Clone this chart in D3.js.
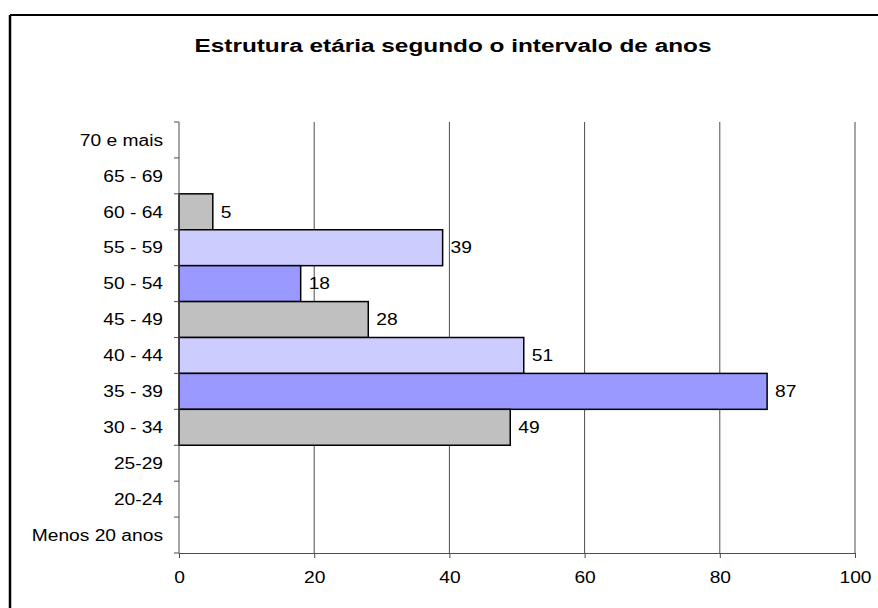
<!DOCTYPE html>
<html>
<head>
<meta charset="utf-8">
<script src="https://cdn.jsdelivr.net/npm/d3@7"></script>
<style>
  body { margin: 0; background: #fff; }
  svg { display: block; font-family: "Liberation Sans", Arial, sans-serif; }
</style>
</head>
<body>
<div id="chart"></div>
<script>
// age groups, top to bottom as drawn
var categories = ["70 e mais", "65 - 69", "60 - 64", "55 - 59", "50 - 54", "45 - 49",
                  "40 - 44", "35 - 39", "30 - 34", "25-29", "20-24", "Menos 20 anos"];
var values = [0, 0, 5, 39, 18, 28, 51, 87, 49, 0, 0, 0];
var barColors = ["#9999FF", "#CCCCFF", "#C0C0C0", "#CCCCFF", "#9999FF", "#C0C0C0",
                 "#CCCCFF", "#9999FF", "#C0C0C0", "#9999FF", "#CCCCFF", "#C0C0C0"];
var xTicks = [0, 20, 40, 60, 80, 100];
var title = "Estrutura etária segundo o intervalo de anos";

var W = 878, H = 608;
var m = {left: 179, right: 23, top: 122, bottom: 55};
var stretch = 1.2; // text in the picture is a bit wider than plain Arial

var svg = d3.select("#chart").append("svg")
    .attr("width", W)
    .attr("height", H);

var x = d3.scaleLinear().domain([0, 100]).range([m.left, W - m.right]);
var y = d3.scaleBand().domain(categories).range([m.top, H - m.bottom]).padding(0);

// one row per age group, empty ones get no bar
var rows = categories.map(function(c, i) {
    return {cat: c, v: values[i], color: barColors[i]};
});
var filled = rows.filter(function(d) { return d.v > 0; });

// frame (only top and left edges show in the picture)
svg.append("line").attr("x1", 10).attr("x2", W).attr("y1", 15).attr("y2", 15)
    .attr("stroke", "#000").attr("stroke-width", 2);
svg.append("line").attr("x1", 10).attr("x2", 10).attr("y1", 15).attr("y2", H)
    .attr("stroke", "#000").attr("stroke-width", 2.5);

function widen(sel, k) {
    sel.each(function() {
        var len = this.getComputedTextLength();
        d3.select(this).attr("textLength", len * k).attr("lengthAdjust", "spacingAndGlyphs");
    });
}

// title
svg.append("text")
    .attr("x", 453).attr("y", 52)
    .attr("text-anchor", "middle")
    .attr("font-size", "18px")
    .attr("font-weight", "bold")
    .attr("textLength", 517)
    .attr("lengthAdjust", "spacingAndGlyphs")
    .text(title);

// vertical gridlines
svg.append("g").selectAll("line")
    .data(xTicks.slice(1))
    .enter().append("line")
    .attr("x1", function(d) { return x(d); })
    .attr("x2", function(d) { return x(d); })
    .attr("y1", m.top)
    .attr("y2", H - m.bottom)
    .attr("stroke", "#4d4d4d")
    .attr("stroke-width", 1);

// bars
svg.append("g").selectAll("rect")
    .data(filled)
    .enter().append("rect")
    .attr("x", x(0))
    .attr("y", function(d) { return y(d.cat); })
    .attr("width", function(d) { return x(d.v) - x(0); })
    .attr("height", y.bandwidth())
    .attr("fill", function(d) { return d.color; })
    .attr("stroke", "#000")
    .attr("stroke-width", 1.5);

// value labels
var vl = svg.append("g").selectAll("text")
    .data(filled)
    .enter().append("text")
    .attr("x", function(d) { return x(d.v) + 8; })
    .attr("y", function(d) { return y(d.cat) + y.bandwidth() / 2; })
    .attr("dy", "0.36em")
    .attr("font-size", "16px")
    .text(function(d) { return d.v; });
widen(vl, stretch);

// y axis
var yAxis = svg.append("g")
    .attr("transform", "translate(" + x(0) + ",0)");
yAxis.append("line")
    .attr("x1", 0).attr("x2", 0)
    .attr("y1", m.top).attr("y2", H - m.bottom)
    .attr("stroke", "#4d4d4d");
yAxis.selectAll("line.tick")
    .data(categories.concat(["end"]))
    .enter().append("line")
    .attr("class", "tick")
    .attr("x1", -5).attr("x2", 0)
    .attr("y1", function(d, i) { return m.top + i * y.step(); })
    .attr("y2", function(d, i) { return m.top + i * y.step(); })
    .attr("stroke", "#4d4d4d");
var yl = yAxis.selectAll("text")
    .data(categories)
    .enter().append("text")
    .attr("x", -16)
    .attr("y", function(d) { return y(d) + y.bandwidth() / 2; })
    .attr("dy", "0.36em")
    .attr("text-anchor", "end")
    .attr("font-size", "16px")
    .text(function(d) { return d; });
widen(yl, stretch);

// x axis
var xAxis = svg.append("g")
    .attr("transform", "translate(0," + (H - m.bottom) + ")")
    .call(d3.axisBottom(x).tickValues(xTicks).tickSize(5).tickSizeOuter(0).tickPadding(14));
xAxis.select(".domain").attr("stroke", "#4d4d4d");
xAxis.selectAll(".tick line").attr("stroke", "#4d4d4d");
xAxis.selectAll(".tick text")
    .attr("font-size", "16px")
    .attr("font-family", "Liberation Sans, Arial, sans-serif")
    .attr("fill", "#000");
widen(xAxis.selectAll(".tick text"), stretch);
</script>
</body>
</html>
